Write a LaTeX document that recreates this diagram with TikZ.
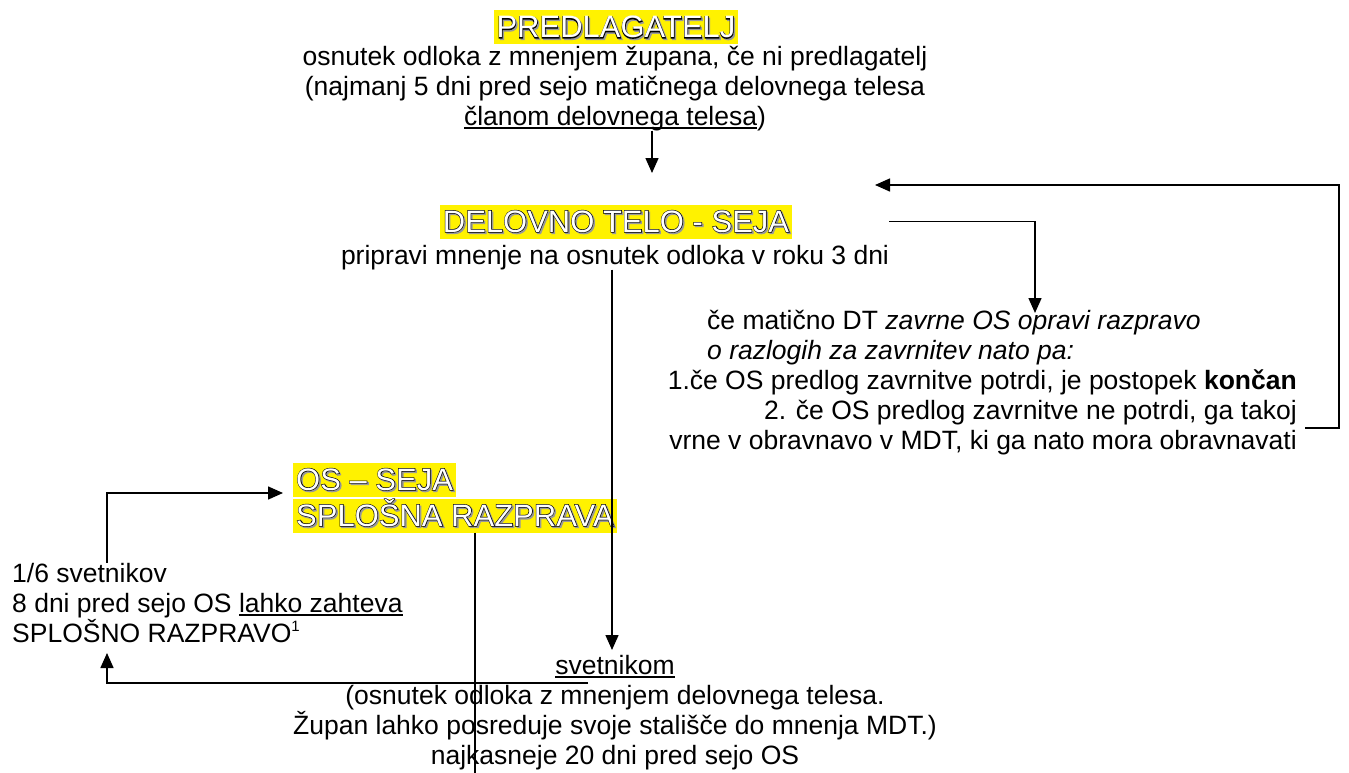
\documentclass[tikz,border=0pt]{standalone}
\usepackage{fontspec}
\setmainfont{Liberation Sans}
\newfontfamily\boldout{Liberation Sans}[FakeBold=3.5]
\usetikzlibrary{arrows.meta}
\newcommand\myul[1]{\setbox0\hbox{#1}\rlap{\rule[-4.2pt]{\wd0}{1.9pt}}\box0}
\newcommand\outl[1]{\rlap{\hspace{1.5pt}\raisebox{-1.5pt}{\boldout\color{black!40}#1}}\rlap{\boldout\color{black}#1}{\color{white}#1}}
\tikzset{
  body/.style={font=\fontsize{26.5}{30}\selectfont, inner sep=0pt, anchor=base},
  head/.style={font=\fontsize{31}{36}\selectfont, fill=yellow, inner xsep=3pt, inner ysep=0pt, text height=27.5pt, text depth=6.5pt, anchor=base},
  arr/.style={line width=1.5pt, -{Triangle[length=15pt,width=13pt]}},
  ln/.style={line width=1.5pt},
}
\begin{document}
\begin{tikzpicture}[x=1pt,y=-1pt]
\fill[white] (0,0) rectangle (1349,773);
\useasboundingbox (0,0) rectangle (1349,773);

% top block
\node[head] (pred) at (616,38) {\outl{PREDLAGATELJ}};
\node[body] (t1) at (615,66) {osnutek odloka z mnenjem župana, če ni predlagatelj};
\node[body] (t2) at (615,96) {(najmanj 5 dni pred sejo matičnega delovnega telesa};
\node[body] (t3) at (615,125) {\myul{članom delovnega telesa})};

% delovno telo
\node[head] (del) at (616,232) {\outl{DELOVNO TELO - SEJA}};
\node[body] (d1) at (615,264) {pripravi mnenje na osnutek odloka v roku 3 dni};

% right block
\node[body,anchor=base west] (r1) at (707,329) {če matično DT \textit{zavrne OS opravi razpravo}};
\node[body,anchor=base west] (r2) at (707,359) {\textit{o razlogih za zavrnitev nato pa:}};
\node[body,anchor=base east] (r3) at (1297,389) {1.če OS predlog zavrnitve potrdi, je postopek \textbf{končan}};
\node[body,anchor=base east] (r4) at (1297,419) {2. če OS predlog zavrnitve ne potrdi, ga takoj};
\node[body,anchor=base east] (r5) at (1297,449) {vrne v obravnavo v MDT, ki ga nato mora obravnavati};

% OS seja
\node[head,anchor=base west] (os1) at (293,490) {\outl{OS – SEJA}};
\node[head,anchor=base west] (os2) at (293,526) {\outl{SPLOŠNA RAZPRAVA}};

% left block
\node[body,anchor=base west] (l1) at (12,582) {1/6 svetnikov};
\node[body,anchor=base west] (l2) at (12,612) {8 dni pred sejo OS \myul{lahko zahteva}};
\node[body,anchor=base west] (l3) at (12,642) {SPLOŠNO RAZPRAVO\raisebox{11pt}{\fontsize{15}{15}\selectfont 1}};

% bottom block
\node[body] (s0) at (615,674) {\myul{svetnikom}};
\node[body] (s1) at (615,704) {(osnutek odloka z mnenjem delovnega telesa.};
\node[body] (s2) at (615,734) {Župan lahko posreduje svoje stališče do mnenja MDT.)};
\node[body] (s3) at (615,764) {najkasneje 20 dni pred sejo OS};

% coordinates
\coordinate (c1) at (652,173);
\coordinate (c2) at (1035,313);
\coordinate (c3) at (1339,185);
\coordinate (c4) at (1305,428);
\coordinate (c5) at (875,185);
\coordinate (c6) at (612,650);
\coordinate (c7) at (475,773);
\coordinate (c8) at (588,683);
\coordinate (c9) at (107,653);
\coordinate (c11) at (283,493);
\coordinate (c12) at (107,493);

% connectors
\draw[arr] (t3.south -| c1) -- (c1);
\draw[arr] (d1.east |- del.center) -- (c2 |- del.center) -- (c2);
\draw[arr] (c4) -- (c4 -| c3) -- (c3) -- (c5);
\draw[arr] (d1.south -| c6) -- (c6);
\draw[ln] (os2.south -| c7) -- (c7);
\draw[arr] (c8) -- (c8 -| c9) -- (c9);
\draw[arr] (l1.north -| c12) -- (c12) -- (c11);
\end{tikzpicture}
\end{document}
